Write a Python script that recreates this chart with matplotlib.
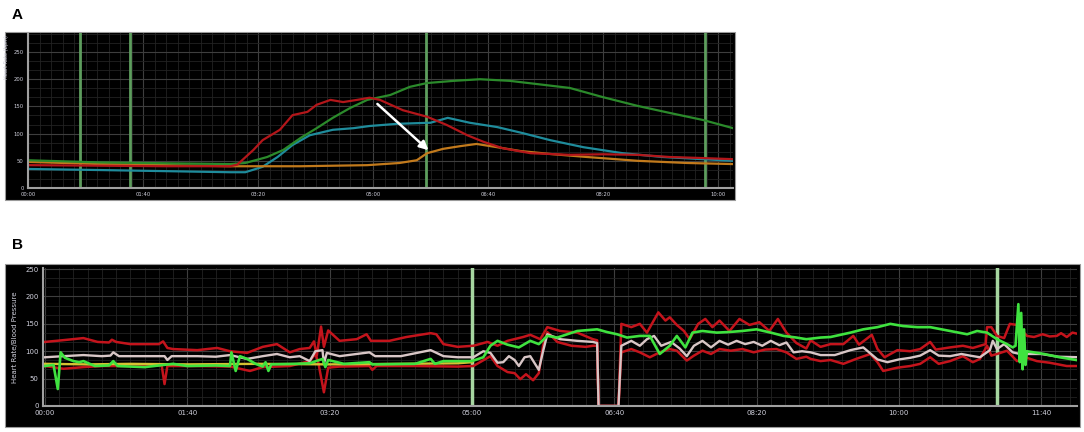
import matplotlib
matplotlib.use('Agg')
import matplotlib.pyplot as plt
from matplotlib.patches import Rectangle
from matplotlib.ticker import MultipleLocator

# ---- panel A data (x in tick units, y in bpm) ----
red_a = [(0, 42), (6.3, 41), (12, 40), (17.6, 40), (18.2, 43), (19.6, 70), (20.4, 88),
         (21.9, 107), (23.0, 134), (24.3, 140), (25.1, 153), (26.3, 162), (27.4, 158),
         (28.6, 162), (29.7, 166), (30.6, 162), (32.6, 143), (34.7, 131), (36.4, 116),
         (38.2, 97), (39.6, 85), (41.3, 73), (43.7, 64), (47.1, 61), (50.0, 62),
         (53.0, 61), (55.8, 57), (58.7, 55), (61.3, 53)]
green_a = [(0, 51), (6.3, 47), (17.6, 44), (18.9, 46), (20.8, 57), (22.2, 70), (23.7, 92),
           (25.1, 110), (26.5, 129), (28.0, 147), (29.5, 162), (31.5, 171), (33.2, 186),
           (34.7, 193), (37.0, 197), (39.3, 200), (41.9, 197), (44.3, 191), (47.1, 184),
           (50.0, 167), (53.0, 151), (55.8, 138), (58.7, 125), (61.3, 110)]
teal_a = [(0, 35), (6.3, 33), (17.6, 29), (18.9, 29), (20.4, 39), (21.7, 57), (23.0, 79),
          (24.5, 97), (26.5, 107), (28.3, 110), (29.7, 114), (32.1, 118), (35.0, 120),
          (36.5, 129), (38.4, 120), (40.8, 112), (43.0, 101), (45.4, 88), (48.3, 75),
          (51.7, 64), (55.2, 57), (58.7, 53), (61.3, 50)]
orange_a = [(0, 48), (6.3, 44), (17.6, 40), (23.7, 40), (29.5, 42), (32.3, 46), (33.8, 51),
            (34.7, 64), (36.1, 72), (37.6, 77), (39.0, 81), (40.8, 75), (42.8, 68),
            (45.7, 62), (48.6, 57), (53.0, 50), (57.3, 46), (61.3, 44)]
marks_a = [4.5, 8.9, 34.6, 58.9]
arrow_a = [(30.2, 158), (35.0, 66)]
xticks_a = [0, 10, 20, 30, 40, 50, 60]
xlabels_a = ['00:00', '01:40', '03:20', '05:00', '06:40', '08:20', '10:00']

# ---- panel B data (seconds, value) ----
sys_bp = [(0, 117), (12, 120), (27, 124), (37, 117), (45, 116), (47, 121), (50, 117), (60, 113),
          (80, 113), (83, 118), (86, 106), (90, 104), (107, 102), (121, 106), (130, 100),
          (142, 97), (153, 108), (163, 113), (172, 98), (179, 104), (186, 106), (189, 118),
          (191, 92), (194, 145), (196, 108), (199, 138), (207, 119), (219, 122), (226, 131),
          (229, 119), (242, 119), (254, 126), (271, 133), (275, 131), (280, 113), (290, 108),
          (301, 110), (311, 117), (318, 110), (325, 119), (336, 126), (341, 130), (348, 122),
          (353, 144), (362, 137), (374, 134), (385, 122), (388, 120), (389, 0), (403, 0),
          (405, 150), (412, 144), (418, 150), (423, 134), (431, 171), (436, 156), (439, 162),
          (444, 148), (449, 137), (453, 122), (459, 150), (464, 159), (469, 144), (474, 156),
          (481, 137), (488, 159), (495, 148), (502, 153), (509, 137), (515, 159), (521, 134),
          (528, 115), (535, 105), (538, 120), (545, 108), (552, 113), (561, 113), (568, 128),
          (572, 112), (581, 130), (585, 104), (590, 89), (599, 102), (608, 100), (615, 104),
          (622, 117), (626, 103), (636, 107), (645, 110), (652, 106), (661, 113), (662, 144),
          (665, 144), (669, 128), (674, 124), (678, 150), (683, 148), (690, 128), (695, 126),
          (701, 131), (706, 127), (711, 128), (714, 133), (718, 126), (722, 134), (727, 131)]
mean_bp = [(0, 89), (13, 91), (27, 93), (40, 91), (46, 92), (48, 98), (52, 91), (70, 91),
           (84, 91), (86, 84), (89, 91), (107, 91), (120, 90), (130, 93), (142, 86), (153, 91),
           (163, 95), (172, 89), (179, 91), (186, 82), (190, 100), (195, 102), (196, 77),
           (198, 97), (207, 91), (228, 98), (232, 91), (250, 91), (271, 102), (280, 91),
           (290, 89), (301, 89), (308, 100), (313, 97), (318, 79), (322, 80), (326, 91),
           (330, 84), (333, 73), (337, 89), (341, 91), (347, 66), (350, 100), (353, 131),
           (362, 122), (374, 119), (385, 117), (388, 115), (389, 0), (403, 0), (405, 110),
           (412, 119), (418, 110), (423, 122), (428, 128), (433, 110), (440, 117), (446, 105),
           (451, 91), (456, 110), (462, 119), (468, 107), (474, 119), (480, 112), (486, 119),
           (492, 113), (498, 117), (504, 110), (510, 119), (516, 111), (521, 116), (526, 98),
           (532, 100), (538, 98), (545, 93), (555, 93), (566, 102), (575, 107), (580, 96),
           (585, 85), (592, 80), (600, 85), (608, 88), (615, 92), (622, 102), (628, 92),
           (636, 91), (644, 95), (650, 92), (657, 89), (664, 102), (666, 119), (669, 104),
           (674, 113), (680, 98), (685, 95), (690, 95), (700, 95), (712, 90), (727, 89)]
dia_bp = [(0, 73), (13, 68), (27, 71), (40, 73), (60, 73), (82, 74), (84, 40), (86, 73),
          (107, 73), (130, 72), (144, 64), (153, 71), (172, 73), (186, 82), (190, 95),
          (192, 80), (196, 25), (199, 70), (207, 72), (228, 73), (230, 66), (233, 73),
          (260, 73), (290, 72), (301, 73), (313, 91), (318, 73), (325, 62), (330, 60),
          (334, 49), (338, 58), (343, 47), (347, 60), (350, 110), (353, 135), (360, 117),
          (370, 110), (380, 108), (385, 110), (388, 110), (389, 0), (403, 0), (405, 98),
          (412, 104), (418, 98), (425, 89), (432, 98), (439, 104), (444, 101), (451, 83),
          (456, 92), (462, 101), (468, 95), (474, 104), (482, 101), (490, 104), (498, 98),
          (506, 103), (514, 104), (521, 98), (528, 86), (535, 90), (538, 86), (545, 82),
          (552, 84), (561, 77), (570, 86), (580, 95), (585, 80), (589, 64), (599, 70),
          (608, 73), (615, 77), (622, 89), (628, 77), (636, 82), (645, 91), (652, 80),
          (657, 86), (662, 110), (665, 92), (669, 95), (676, 101), (683, 82), (690, 88),
          (697, 82), (706, 79), (718, 73), (727, 73)]
heart_rate = [(0, 73), (6, 75), (9, 31), (11, 98), (14, 88), (20, 82), (24, 80), (27, 82),
              (35, 73), (45, 74), (48, 82), (51, 73), (70, 71), (90, 77), (100, 73), (120, 74),
              (130, 73), (131, 98), (134, 64), (137, 91), (142, 86), (148, 77), (153, 72),
              (155, 80), (157, 64), (159, 76), (175, 77), (186, 78), (195, 86), (197, 71),
              (199, 84), (210, 77), (228, 80), (230, 76), (260, 77), (271, 86), (274, 77),
              (280, 82), (300, 82), (308, 89), (313, 110), (318, 119), (325, 112), (333, 107),
              (341, 119), (347, 113), (353, 128), (360, 125), (374, 137), (388, 140),
              (395, 135), (402, 131), (409, 125), (418, 128), (425, 128), (432, 95), (439, 110),
              (444, 128), (450, 107), (455, 134), (462, 137), (472, 134), (480, 135),
              (490, 137), (500, 140), (510, 134), (519, 128), (528, 125), (535, 122),
              (545, 125), (552, 126), (566, 134), (575, 140), (585, 144), (594, 150),
              (603, 146), (613, 144), (622, 144), (636, 137), (648, 131), (655, 137),
              (662, 134), (669, 122), (676, 113), (680, 107), (682, 110), (684, 186),
              (685, 80), (686, 170), (687, 67), (688, 140), (689, 75), (690, 100),
              (702, 95), (713, 89), (727, 83)]
aux_line = [(0, 77), (30, 76), (60, 77), (100, 76), (150, 77), (200, 76), (250, 77),
            (290, 78), (300, 80)]
marks_b = [300, 669]
xticks_b = [0, 100, 200, 300, 400, 500, 600, 700]
xlabels_b = ['00:00', '01:40', '03:20', '05:00', '06:40', '08:20', '10:00', '11:40']
yticks = [0, 50, 100, 150, 200, 250]

W, H = 1084, 432
fig = plt.figure(figsize=(W / 100, H / 100), dpi=100)
fig.patch.set_facecolor('white')


def xy(pts):
    return [p[0] for p in pts], [p[1] for p in pts]


def style_axes(ax, xmaj, xmin, fs):
    ax.set_facecolor('black')
    ax.xaxis.set_major_locator(MultipleLocator(xmaj))
    ax.xaxis.set_minor_locator(MultipleLocator(xmin))
    ax.yaxis.set_major_locator(MultipleLocator(50))
    ax.yaxis.set_minor_locator(MultipleLocator(50 / 3))
    ax.grid(which='minor', color='#222222', lw=0.6)
    ax.grid(which='major', color='#3e3e3e', lw=0.8)
    ax.set_axisbelow(True)
    for s in ['top', 'right']:
        ax.spines[s].set_visible(False)
    for s in ['left', 'bottom']:
        ax.spines[s].set_color('#a0a0a0')
        ax.spines[s].set_linewidth(1.5)
    ax.tick_params(which='both', length=0, labelcolor='#d0d0dc', labelsize=fs, pad=3)


# black frames behind both panels
fig.patches.append(Rectangle((5 / W, 1 - 200 / H), 730 / W, 168 / H, transform=fig.transFigure,
                             facecolor='black', edgecolor='#9a9a9a', lw=0.8, zorder=-10))
fig.patches.append(Rectangle((5 / W, 1 - 427 / H), 1075 / W, 163 / H, transform=fig.transFigure,
                             facecolor='black', edgecolor='#9a9a9a', lw=0.8, zorder=-10))

# ---------- panel A ----------
axA = fig.add_axes([28 / W, 1 - 188 / H, 705 / W, 155 / H])
style_axes(axA, 10, 1, 3.8)
axA.set_xlim(0, 61.3)
axA.set_ylim(0, 285)
axA.set_yticks(yticks)
axA.set_xticks(xticks_a)
axA.set_xticklabels(xlabels_a)
for m in marks_a:
    axA.axvline(m, color='#5e9e5e', lw=2, zorder=1.5)
axA.plot(*xy(teal_a), color='#1f8c9c', lw=1.6)
axA.plot(*xy(orange_a), color='#c27a1c', lw=1.6)
axA.plot(*xy(green_a), color='#2b8a2b', lw=1.6)
axA.plot(*xy(red_a), color='#b3161a', lw=1.6)
axA.annotate('', xy=arrow_a[1], xytext=arrow_a[0],
             arrowprops=dict(arrowstyle='-|>', color='white', lw=1.8, mutation_scale=13))
fig.text(7 / W, 1 - 57 / H, 'Heart Rate (bpm)', rotation=90, color='#d0d0dc',
         fontsize=3.6, ha='center', va='center')
fig.text(12 / W, 1 - 15 / H, 'A', fontsize=11, fontweight='bold', family='Liberation Sans',
         ha='left', va='center')

# ---------- panel B ----------
axB = fig.add_axes([43 / W, 1 - 406 / H, 1034 / W, 138 / H])
style_axes(axB, 100, 10, 5)
axB.set_xlim(-1.4, 725.2)
axB.set_ylim(0, 252)
axB.set_yticks(yticks)
axB.set_xticks(xticks_b)
axB.set_xticklabels(xlabels_b)
for m in marks_b:
    axB.axvline(m, color='#a6d6a0', lw=2.5, zorder=1.5)
axB.plot(*xy(dia_bp), color='#c4141c', lw=1.8)
axB.plot(*xy(sys_bp), color='#c4141c', lw=1.8)
axB.plot(*xy(mean_bp), color='#d8c6c6', lw=1.7)
axB.plot(*xy(aux_line), color='#d6c232', lw=1.7)
axB.plot(*xy(heart_rate), color='#3fe23f', lw=1.9)
fig.text(15 / W, 1 - 337 / H, 'Heart Rate/Blood Pressure', rotation=90, color='#d0d0dc',
         fontsize=5, ha='center', va='center')
fig.text(12 / W, 1 - 245 / H, 'B', fontsize=11, fontweight='bold', family='Liberation Sans',
         ha='left', va='center')

fig.savefig('out.png', dpi=100, facecolor='white')
